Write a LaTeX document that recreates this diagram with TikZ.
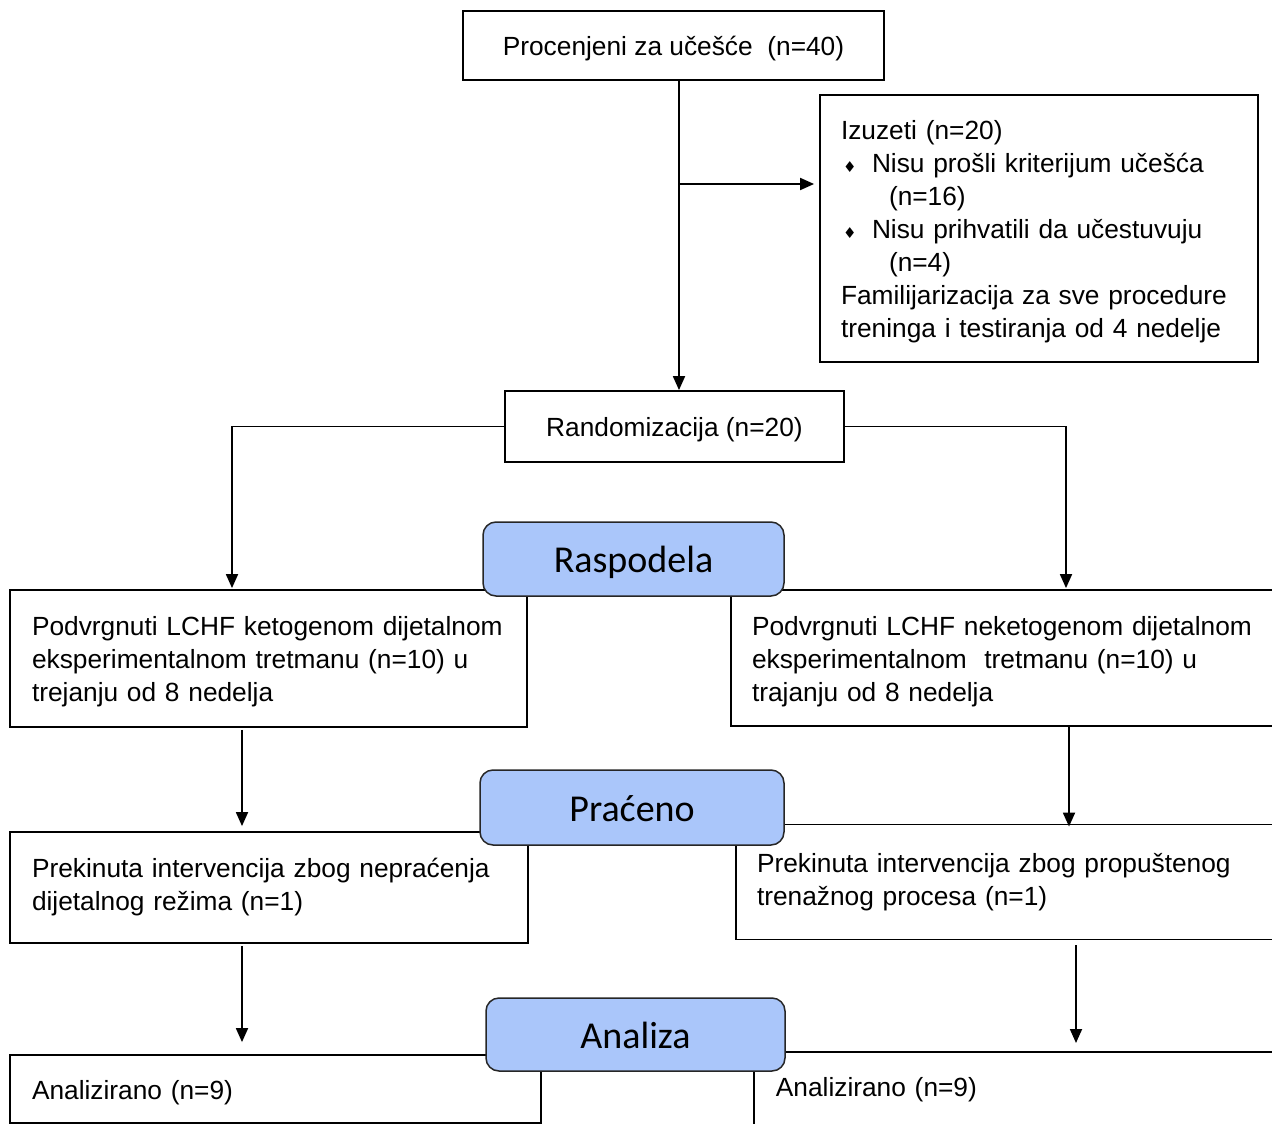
\documentclass[tikz,border=0pt]{standalone}
\usepackage{fontspec}
\setmainfont{Liberation Sans}
\newfontfamily\calfont{Carlito}
\newfontfamily\djfont{DejaVu Sans}
\usetikzlibrary{arrows.meta}
\definecolor{bluefill}{RGB}{170,198,250}
\newcommand{\bul}{{\djfont\fontsize{15}{15}\selectfont ♦}}
\begin{document}
\begin{tikzpicture}[x=1pt,y=-1pt,
  plainbox/.style={draw=black, line width=1.8pt, rectangle, inner ysep=0pt, align=left, font=\fontsize{26.3}{33}\selectfont},
  box/.style={plainbox, execute at begin node={\rule{0pt}{26pt}}},
  stage/.style={draw=black!85, line width=1.5pt, fill=bluefill, rounded corners=13pt, font=\calfont\fontsize{38}{40}\selectfont, inner sep=0pt, text height=35pt, text depth=8pt},
  arr/.style={line width=1.8pt, -{Triangle[length=14pt,width=12pt]}},
  ln/.style={line width=1.8pt}]
\useasboundingbox (0,0) rectangle (1272,1124);
\clip (0,0) rectangle (1272,1124);

% boxes
\node[box, align=center, minimum width=421pt, minimum height=69pt] (p) at (673.5,45.5) {Procenjeni za učešće\ \ (n=40)};
\node[box, text width=396pt, inner xsep=21pt, minimum height=267pt] (e) at (1039,228.5)
 {\mbox{Izuzeti (n=20)}\\
  \mbox{\makebox[31pt][l]{\hspace{2pt}\bul}Nisu prošli kriterijum učešća}\\
  \mbox{\hspace*{48pt}(n=16)}\\
  \mbox{\makebox[31pt][l]{\hspace{2pt}\bul}Nisu prihvatili da učestuvuju}\\
  \mbox{\hspace*{48pt}(n=4)}\\
  \mbox{Familijarizacija za sve procedure}\\
  \mbox{treninga i testiranja od 4 nedelje}};
\node[box, align=center, minimum width=339pt, minimum height=71pt] (r) at (674.5,426.5) {Randomizacija (n=20)};

\node[box, text width=473pt, inner xsep=22pt, minimum height=137pt] (b2l) at (268.5,658.5)
 {\mbox{Podvrgnuti LCHF ketogenom dijetalnom}\\
  \mbox{eksperimentalnom tretmanu (n=10) u}\\
  \mbox{trejanju od 8 nedelja}};
\node[box, text width=517pt, inner xsep=21pt, minimum height=136pt] (b2r) at (1010.5,658)
 {\mbox{Podvrgnuti LCHF neketogenom dijetalnom}\\
  \mbox{eksperimentalnom\ \ tretmanu (n=10) u}\\
  \mbox{trajanju od 8 nedelja}};

\node[plainbox, text width=474pt, inner xsep=22pt, minimum height=111pt] (b3l) at (269,887.5)
 {\mbox{Prekinuta intervencija zbog nepraćenja}\\
  \mbox{dijetalnog režima (n=1)}};
\node[plainbox, text width=512pt, inner xsep=21pt, minimum height=115pt] (b3r) at (1013,882)
 {\mbox{Prekinuta intervencija zbog propuštenog}\\
  \mbox{trenažnog procesa (n=1)}};

\node[box, text width=487pt, inner xsep=22pt, minimum height=68pt] (b4l) at (275.5,1089)
 {Analizirano (n=9)};
\node[box, draw=none, text width=494pt, inner xsep=21pt, minimum height=70pt, anchor=north west] (b4r) at (754,1050)
 {Analizirano (n=9)};
\draw[ln] ([yshift=-20pt]b4r.south west) -- ([yshift=-2pt]b4r.north west) -- ([xshift=30pt,yshift=-2pt]b4r.north east);

% connectors
\coordinate (pa) at ([xshift=5.5pt]p.south);
\draw[arr] (pa) -- (pa |- r.north);
\coordinate (j) at (679,184);
\draw[arr, shorten >=5pt] (j) -- (j -| e.west);

\coordinate (la) at ([xshift=-36.5pt]b2l.north);
\draw[arr, shorten >=1pt] (r.west) -| (la);
\coordinate (ra) at ([xshift=55.5pt]b2r.north);
\draw[arr, shorten >=1pt] (r.east) -| (ra);

\coordinate (l2) at ([xshift=-26.5pt]b2l.south);
\draw[arr, shorten <=2pt, shorten >=5pt] (l2) -- (l2 |- b3l.north);
\coordinate (r2) at ([xshift=58.5pt]b2r.south);
\draw[arr, shorten >=-3pt] (r2) -- (r2 |- b3r.north);

\coordinate (l3) at ([xshift=-27pt]b3l.south);
\draw[arr, shorten <=2pt, shorten >=12pt] (l3) -- (l3 |- b4l.north);
\coordinate (r3) at ([xshift=63pt]b3r.south);
\draw[arr, shorten <=5pt, shorten >=7pt] (r3) -- (r3 |- b4r.north);

% stage labels
\node[stage, minimum width=301pt, minimum height=74pt] (s1) at (633.5,559) {Raspodela};
\node[stage, minimum width=304pt, minimum height=75pt] (s2) at (632,807.5) {Praćeno};
\node[stage, minimum width=299pt, minimum height=73pt] (s3) at (635.5,1034.5) {Analiza};
\end{tikzpicture}
\end{document}
